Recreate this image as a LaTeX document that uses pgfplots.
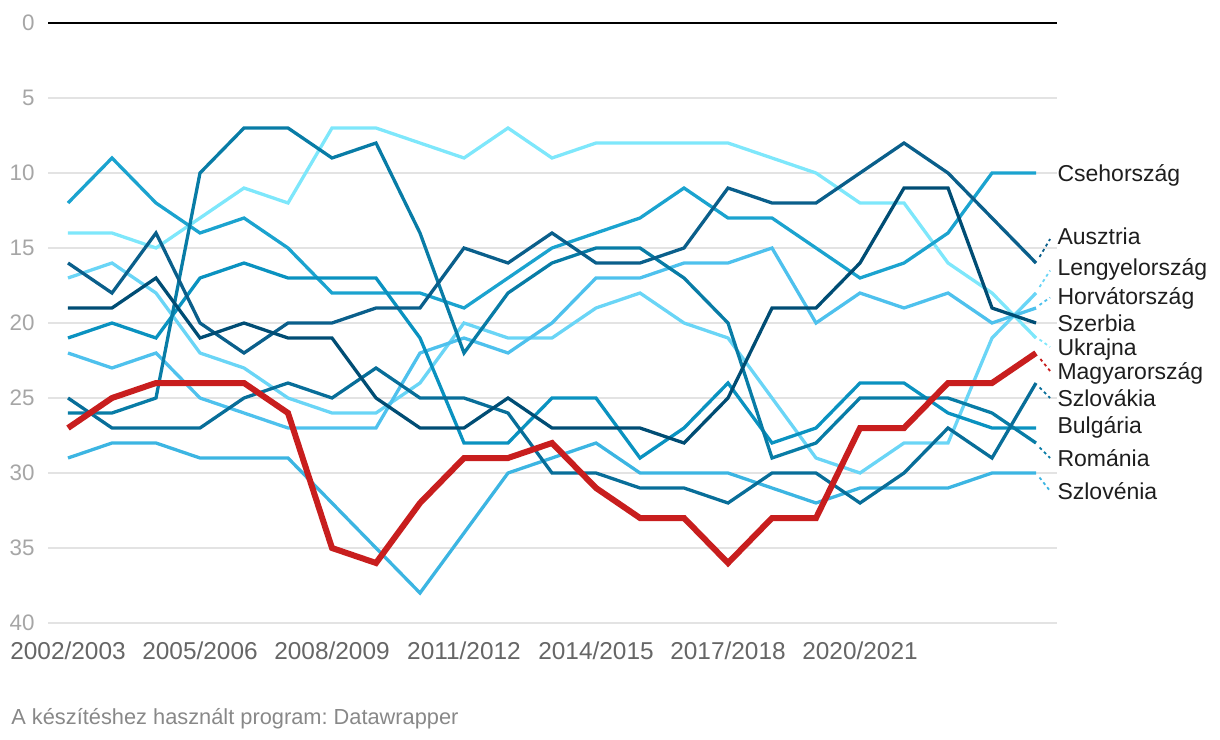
\documentclass[border=0pt]{standalone}
\usepackage{fontspec}
\setmainfont{Liberation Sans}
\usepackage{pgfplots}
\pgfplotsset{compat=1.18}
\frenchspacing
\definecolor{cCZ}{HTML}{1BA3CF}
\definecolor{cAT}{HTML}{0A5F8B}
\definecolor{cRS}{HTML}{004D74}
\definecolor{cPL}{HTML}{6AD5F6}
\definecolor{cHR}{HTML}{4EC1ED}
\definecolor{cUA}{HTML}{7EE7FB}
\definecolor{cHU}{HTML}{C81E1E}
\definecolor{cSK}{HTML}{086E99}
\definecolor{cBG}{HTML}{0A92C0}
\definecolor{cRO}{HTML}{087CA6}
\definecolor{cSI}{HTML}{3CB5E2}
\definecolor{gridc}{HTML}{E3E3E3}
\definecolor{ytc}{HTML}{A6A6A6}
\definecolor{xtc}{HTML}{666666}
\definecolor{footc}{HTML}{888888}
\definecolor{labc}{HTML}{1E1E1E}
\begin{document}
\begin{tikzpicture}
\path[use as bounding box] (0,0) rectangle (610bp,370bp);
\begin{axis}[
  at={(24bp,58.5bp)}, anchor=south west,
  scale only axis, width=504.5bp, height=300bp,
  xmin=-0.4545, xmax=22.477, ymin=0, ymax=40, y dir=reverse,
  axis line style={draw=none}, major tick length=0pt,
  ytick={0,5,...,40},
  xtick={0,3,6,9,12,15,18},
  xticklabels={2002/2003,2005/2006,2008/2009,2011/2012,2014/2015,2017/2018,2020/2021},
  ymajorgrids, grid style={color=gridc, line width=1bp},
  clip=false,
  /pgf/number format/assume math mode=true,
  yticklabel style={anchor=east, inner sep=0pt, xshift=-6.5bp, text=ytc, font=\fontsize{11.2bp}{13bp}\selectfont},
  xticklabel style={anchor=north, inner sep=0pt, yshift=-9bp, text=xtc, font=\fontsize{12.2bp}{14bp}\selectfont},
  every axis plot/.append style={line width=1.65bp, mark=none},
]
\addplot[black, line width=1bp] coordinates {(-0.4545,0) (22.477,0)};

% Ukrajna
\addplot[cUA] coordinates {(0,14)(1,14)(2,15)(3,13)(4,11)(5,12)(6,7)(7,7)(8,8)(9,9)(10,7)(11,9)(12,8)(13,8)(14,8)(15,8)(16,9)(17,10)(18,12)(19,12)(20,16)(21,18)(22,21)};
% Lengyelorszag
\addplot[cPL] coordinates {(0,17)(1,16)(2,18)(3,22)(4,23)(5,25)(6,26)(7,26)(8,24)(9,20)(10,21)(11,21)(12,19)(13,18)(14,20)(15,21)(16,25)(17,29)(18,30)(19,28)(20,28)(21,21)(22,18)};
% Horvatorszag
\addplot[cHR] coordinates {(0,22)(1,23)(2,22)(3,25)(4,26)(5,27)(6,27)(7,27)(8,22)(9,21)(10,22)(11,20)(12,17)(13,17)(14,16)(15,16)(16,15)(17,20)(18,18)(19,19)(20,18)(21,20)(22,19)};
% Szlovenia
\addplot[cSI] coordinates {(0,29)(1,28)(2,28)(3,29)(4,29)(5,29)(6,32)(7,35)(8,38)(9,34)(10,30)(11,29)(12,28)(13,30)(14,30)(15,30)(16,31)(17,32)(18,31)(19,31)(20,31)(21,30)(22,30)};
% Csehorszag
\addplot[cCZ] coordinates {(0,12)(1,9)(2,12)(3,14)(4,13)(5,15)(6,18)(7,18)(8,18)(9,19)(10,17)(11,15)(12,14)(13,13)(14,11)(15,13)(16,13)(17,15)(18,17)(19,16)(20,14)(21,10)(22,10)};
% Bulgaria
\addplot[cBG] coordinates {(0,21)(1,20)(2,21)(3,17)(4,16)(5,17)(6,17)(7,17)(8,21)(9,28)(10,28)(11,25)(12,25)(13,29)(14,27)(15,24)(16,28)(17,27)(18,24)(19,24)(20,26)(21,27)(22,27)};
% Romania
\addplot[cRO] coordinates {(0,26)(1,26)(2,25)(3,10)(4,7)(5,7)(6,9)(7,8)(8,14)(9,22)(10,18)(11,16)(12,15)(13,15)(14,17)(15,20)(16,29)(17,28)(18,25)(19,25)(20,25)(21,26)(22,28)};
% Szlovakia
\addplot[cSK] coordinates {(0,25)(1,27)(2,27)(3,27)(4,25)(5,24)(6,25)(7,23)(8,25)(9,25)(10,26)(11,30)(12,30)(13,31)(14,31)(15,32)(16,30)(17,30)(18,32)(19,30)(20,27)(21,29)(22,24)};
% Ausztria
\addplot[cAT] coordinates {(0,16)(1,18)(2,14)(3,20)(4,22)(5,20)(6,20)(7,19)(8,19)(9,15)(10,16)(11,14)(12,16)(13,16)(14,15)(15,11)(16,12)(17,12)(18,10)(19,8)(20,10)(21,13)(22,16)};
% Szerbia
\addplot[cRS] coordinates {(0,19)(1,19)(2,17)(3,21)(4,20)(5,21)(6,21)(7,25)(8,27)(9,27)(10,25)(11,27)(12,27)(13,27)(14,28)(15,25)(16,19)(17,19)(18,16)(19,11)(20,11)(21,19)(22,20)};
% Magyarorszag
\addplot[cHU, line width=3bp] coordinates {(0,27)(1,25)(2,24)(3,24)(4,24)(5,26)(6,35)(7,36)(8,32)(9,29)(10,29)(11,28)(12,31)(13,33)(14,33)(15,36)(16,33)(17,33)(18,27)(19,27)(20,24)(21,24)(22,22)};

% connectors
\pgfplotsset{conn/.style={line width=0.9bp, dash pattern=on 1.5bp off 1.6bp}}
\addplot[cAT, conn] coordinates {(22.08,15.6)(22.32,14.4)};
\addplot[cPL, conn] coordinates {(22.08,17.6)(22.32,16.5)};
\addplot[cHR, conn] coordinates {(22.08,18.8)(22.32,18.3)};
\addplot[cUA, conn] coordinates {(22.08,21.1)(22.32,21.6)};
\addplot[cHU, conn] coordinates {(22.1,22.4)(22.32,23.2)};
\addplot[cSK, conn] coordinates {(22.08,24.3)(22.32,25.0)};
\addplot[cRO, conn] coordinates {(22.08,28.3)(22.32,29.0)};
\addplot[cSI, conn] coordinates {(22.08,30.3)(22.32,31.2)};

\begin{scope}[every node/.style={anchor=base west, inner sep=0pt, yshift=-4.1bp, text=labc, font=\fontsize{11.5bp}{13bp}\selectfont}]
\node at (axis cs:22.48,10.0) {Csehország};
\node at (axis cs:22.48,14.2) {Ausztria};
\node at (axis cs:22.48,16.3) {Lengyelország};
\node at (axis cs:22.48,18.2) {Horvátország};
\node at (axis cs:22.48,20.0) {Szerbia};
\node at (axis cs:22.48,21.6) {Ukrajna};
\node at (axis cs:22.48,23.2) {Magyarország};
\node at (axis cs:22.48,25.0) {Szlovákia};
\node at (axis cs:22.48,26.8) {Bulgária};
\node at (axis cs:22.48,29.0) {Románia};
\node at (axis cs:22.48,31.2) {Szlovénia};
\end{scope}
\end{axis}
\node[anchor=base west, inner sep=0pt, text=footc, font=\fontsize{10.9bp}{12bp}\selectfont] at (5.5bp,8bp) {A készítéshez használt program: Datawrapper};
\end{tikzpicture}
\end{document}
